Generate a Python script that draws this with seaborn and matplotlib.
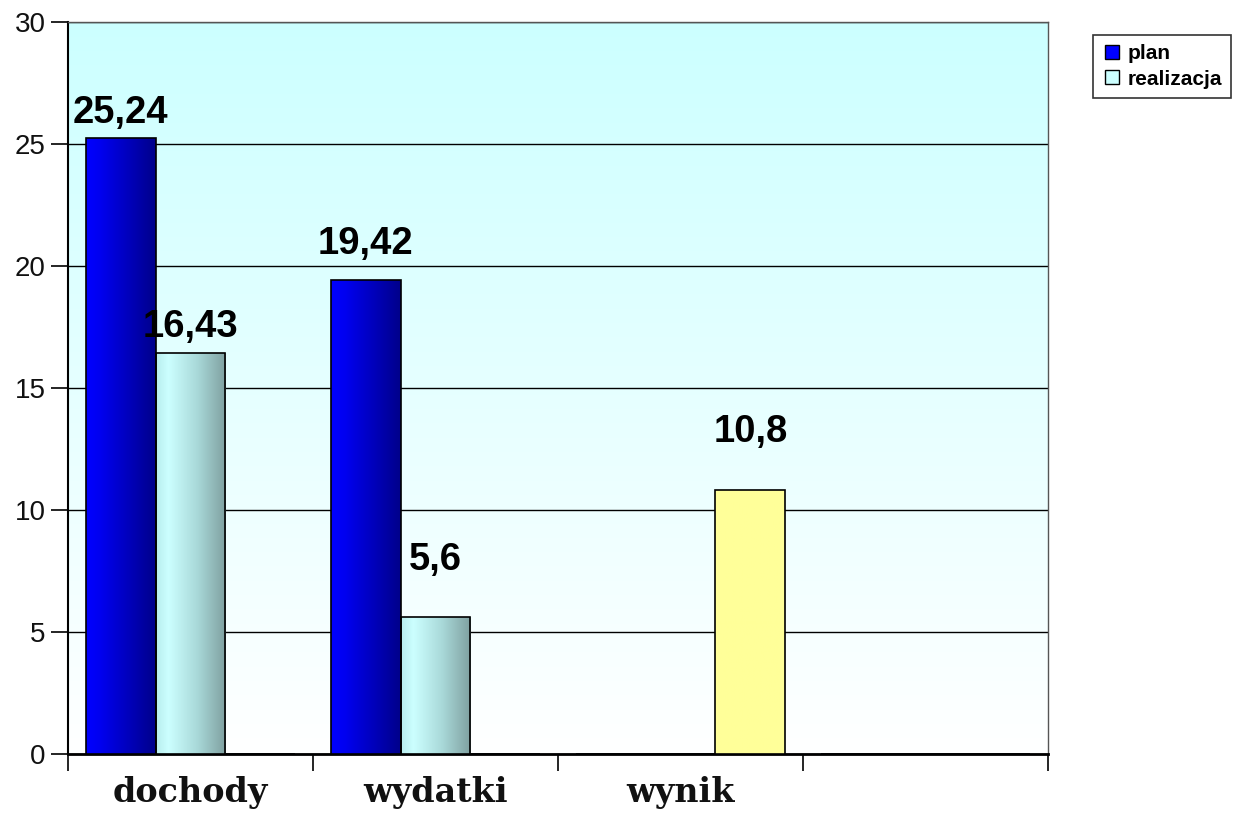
import numpy as np
import pandas as pd
import matplotlib
matplotlib.use("Agg")
import matplotlib.pyplot as plt
import seaborn as sns
from matplotlib.colors import LinearSegmentedColormap
from matplotlib.lines import Line2D

# ---- data ----
categories = ["dochody", "wydatki", "wynik", ""]
series = ["plan", "realizacja", "wynik"]
plan = [25.24, 19.42, 0, 0]
realizacja = [16.43, 5.6, 0, 0]
wynik = [0, 0, 10.8, 0]
legend_series = ["plan", "realizacja"]
y_ticks = [0, 5, 10, 15, 20, 25, 30]

# label offsets above bar tops (points), styling only
label_offsets = {("plan", 0): 18, ("realizacja", 0): 19, ("plan", 1): 26,
                 ("realizacja", 1): 41, ("wynik", 2): 42}

rows = []
for s, vals in zip(series, [plan, realizacja, wynik]):
    for c, v in zip(categories, vals):
        rows.append({"kategoria": c, "seria": s, "wartosc": v})
df = pd.DataFrame(rows)

sns.set_theme(style="white")
plt.rcParams["font.family"] = ["Liberation Sans", "DejaVu Sans"]
plt.rcParams["text.color"] = "black"

fig = plt.figure(figsize=(12.43, 8.21), dpi=100)
ax = fig.add_axes([68/1243, 1-754/821, (1048-68)/1243, (754-22)/821])

palette = {"plan": "#0000ff", "realizacja": "#ccffff", "wynik": "#ffff99"}
sns.barplot(data=df, x="kategoria", y="wartosc", hue="seria", order=categories,
            hue_order=series, palette=palette, width=0.857, dodge=True,
            edgecolor="black", linewidth=1.2, saturation=1, ax=ax, legend=False,
            zorder=3, errorbar=None)

# background vertical gradient
bg = np.linspace(0, 1, 256).reshape(-1, 1)
bg_cmap = LinearSegmentedColormap.from_list("bg", ["#ffffff", "#ccffff"])
ax.imshow(bg, extent=[-0.5, 3.5, 0, 30], aspect="auto", cmap=bg_cmap,
          origin="lower", zorder=0)

grads = {
    "plan": LinearSegmentedColormap.from_list("p", [(0, "#0000ff"), (0.2, "#0000f0"), (1, "#00008a")]),
    "realizacja": LinearSegmentedColormap.from_list("r", [(0, "#b8eeee"), (0.18, "#ccffff"), (0.6, "#a8d8d8"), (1, "#7fa0a0")]),
    "wynik": LinearSegmentedColormap.from_list("w", ["#ffff99", "#ffff99"]),
}
hgrad = np.linspace(0, 1, 256).reshape(1, -1)

for s, cont in zip(series, ax.containers):
    for i, bar in enumerate(cont.patches):
        x0, y0 = bar.get_x(), bar.get_y()
        w, h = bar.get_width(), bar.get_height()
        if h > 0:
            im = ax.imshow(hgrad, extent=[x0, x0 + w, y0, y0 + h], aspect="auto",
                           cmap=grads[s], zorder=2.9)
            im.set_clip_path(bar)
            bar.set_facecolor("none")
            off = label_offsets.get((s, i), 20)
            ax.annotate(f"{h:g}".replace(".", ","), (x0 + w/2, y0 + h),
                        xytext=(0, off), textcoords="offset points",
                        ha="center", va="center", fontsize=27.5, fontweight="bold",
                        color="black", zorder=5)

ax.set_xlim(-0.5, 3.5)
ax.set_ylim(0, 30)
ax.set_yticks(y_ticks)
ax.set_yticklabels([str(t) for t in y_ticks], fontsize=20, color="#111111")
ax.yaxis.grid(True, color="black", linewidth=1, zorder=1)
ax.set_axisbelow(True)

ax.set_xticks([-0.5, 0.5, 1.5, 2.5, 3.5])
ax.set_xticklabels([])
ax.set_xticks([0, 1, 2, 3], minor=True)
ax.set_xticklabels(categories, minor=True, fontsize=24, fontweight="bold",
                   family=["DejaVu Serif"], color="#111111")
ax.tick_params(axis="x", which="minor", length=0, pad=16)
ax.tick_params(axis="x", which="major", length=12, width=1.2, color="black", direction="out", bottom=True)
ax.tick_params(axis="y", length=12, width=1.2, color="black", direction="out", left=True, pad=4)
ax.set_xlabel("")
ax.set_ylabel("")

for side in ["top", "right"]:
    ax.spines[side].set_color("#555555")
    ax.spines[side].set_linewidth(1)
ax.spines["left"].set_color("black")
ax.spines["left"].set_linewidth(1.5)
ax.spines["bottom"].set_color("black")
ax.spines["bottom"].set_linewidth(2)

handles = [Line2D([], [], marker="s", linestyle="none", markersize=10,
                  markerfacecolor=palette[s], markeredgecolor="black")
           for s in legend_series]
leg = fig.legend(handles, legend_series, loc="upper left",
                 bbox_to_anchor=(1093/1243, 1-35/821), frameon=True,
                 fancybox=False, edgecolor="black", borderaxespad=0,
                 prop={"weight": "bold", "size": 15}, handletextpad=0.3,
                 borderpad=0.45, labelspacing=0.3, handlelength=0.9)
leg.get_frame().set_linewidth(1.2)

fig.savefig("out.png", dpi=100)
